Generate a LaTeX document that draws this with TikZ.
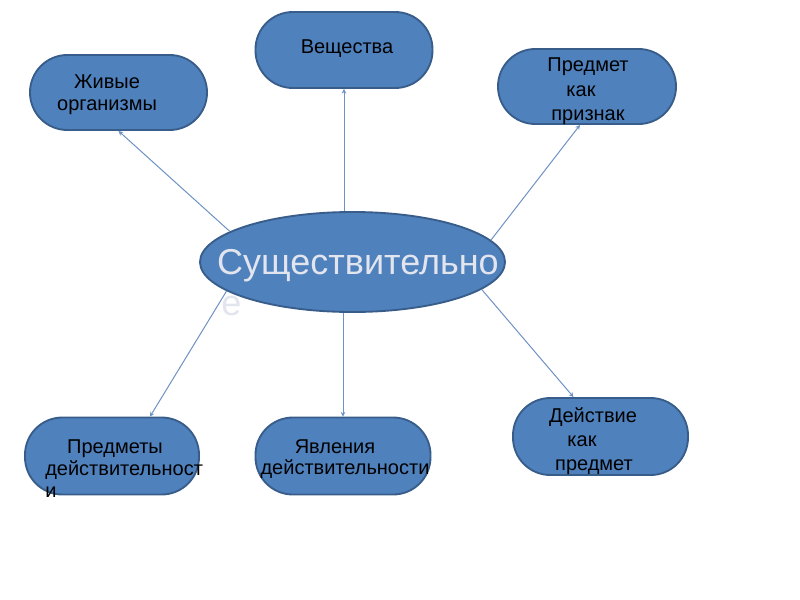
\documentclass[tikz,border=0pt]{standalone}
\usepackage{fontspec}
\setmainfont{Liberation Sans}
\usetikzlibrary{arrows.meta,shapes.geometric,calc}
\definecolor{boxfill}{HTML}{4F81BD}
\definecolor{boxline}{HTML}{385D8A}
\definecolor{conn}{HTML}{6F92C4}
\definecolor{titletext}{HTML}{E2E5EE}
\begin{document}
\begin{tikzpicture}[x=0.75pt,y=-0.75pt,
  stadium/.style={draw=boxline,line width=1.4pt,fill=boxfill,rectangle,rounded corners=28pt,inner sep=0pt},
  lbl/.style={font=\fontsize{15pt}{18pt}\selectfont,text=black,inner sep=0pt,anchor=base},
  conn/.style={draw=conn,line width=0.75pt,-{Stealth[length=3.5pt,width=3.5pt]}},
  ]
\useasboundingbox (0,0) rectangle (800,600);
\fill[white] (0,0) rectangle (800,600);
% boxes
\node[stadium,minimum width=177*0.75pt,minimum height=75*0.75pt] (zh) at (118.5,92.5) {};
\node[stadium,minimum width=177*0.75pt,minimum height=76*0.75pt] (ve) at (344,50) {};
\node[stadium,minimum width=178*0.75pt,minimum height=75*0.75pt] (pr) at (587,86.5) {};
\node[stadium,minimum width=174*0.75pt,minimum height=77*0.75pt] (pd) at (112,456) {};
\node[stadium,minimum width=175*0.75pt,minimum height=77*0.75pt] (ya) at (343,456) {};
\node[stadium,minimum width=175*0.75pt,minimum height=77*0.75pt] (de) at (600.5,436.5) {};
% central ellipse
\node[ellipse,draw=boxline,line width=1.4pt,fill=boxfill,minimum width=305*0.75pt,minimum height=100*0.75pt,inner sep=0pt] (e) at (352.5,262) {};
% connectors
\draw[conn] (e.166) -- (zh.south);
\draw[conn] (ve.south |- e.north) -- (ve.south);
\draw[conn] (e.9) -- ($(pr.south)+(-7,0)$);
\draw[conn] (e.193) -- ($(pd.north)+(38,0)$);
\draw[conn] (ya.north |- e.south) -- (ya.north);
\draw[conn] (e.348.6) -- ($(de.north)+(-27,0)$);
% labels
\node[lbl] (zh1) at (107,88) {Живые};
\node[lbl] (zh2) at (107,110) {организмы};
\node[lbl] (ve1) at (347,53) {Вещества};
\node[lbl] (pr1) at (588,71) {Предмет};
\node[lbl] (pr2) at (581,96) {как};
\node[lbl] (pr3) at (588,120) {признак};
\node[lbl] (pd1) at (115,453) {Предметы};
\node[lbl,anchor=base west] (pd2) at (45,475) {действительност};
\node[lbl,anchor=base west] (pd3) at (45,497) {и};
\node[lbl] (ya1) at (335,453) {Явления};
\node[lbl] (ya2) at (345,474) {действительности};
\node[lbl] (de1) at (593,422) {Действие};
\node[lbl] (de2) at (582,446) {как};
\node[lbl] (de3) at (594,470) {предмет};
\node[font=\fontsize{27pt}{32pt}\selectfont,text=titletext,inner sep=0pt,anchor=base] (t1) at (358,274) {Существительно};
\node[font=\fontsize{27pt}{32pt}\selectfont,text=titletext,inner sep=0pt,anchor=base west] (t2) at (221,315) {е};
\end{tikzpicture}
\end{document}
